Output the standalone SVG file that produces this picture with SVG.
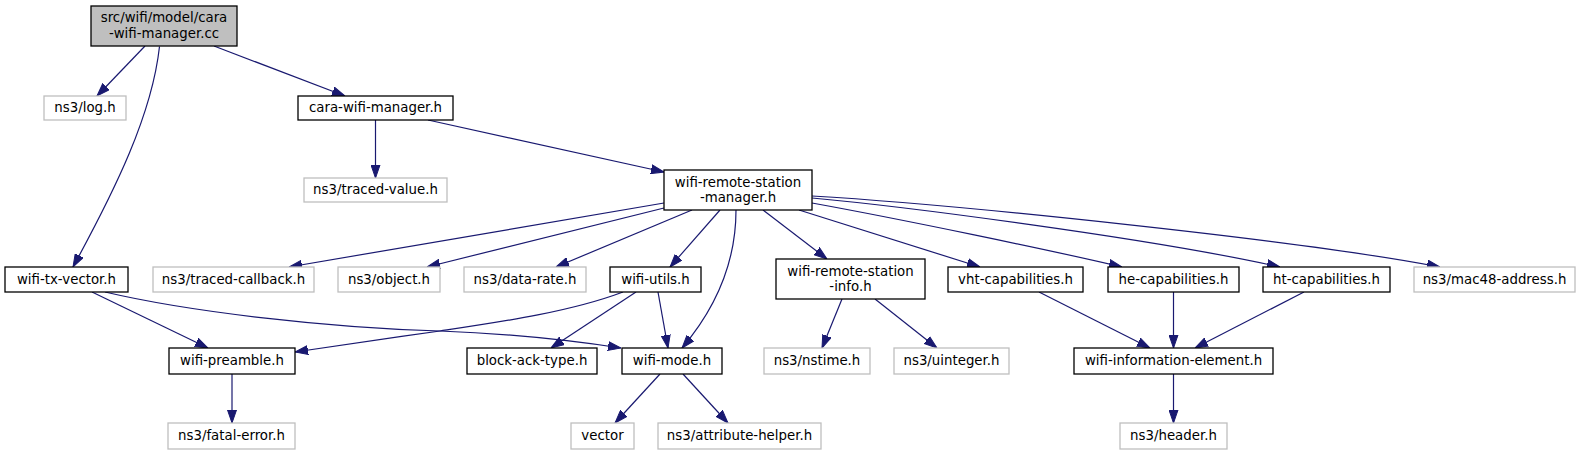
<svg xmlns="http://www.w3.org/2000/svg" width="1581" height="455" viewBox="0 0 1581 455">
<style>
.n rect{fill:#ffffff;stroke:#000000;stroke-width:1.3}
.x rect{fill:#ffffff;stroke:#bfbfbf;stroke-width:1.3}
.r rect{fill:#bfbfbf;stroke:#000000;stroke-width:1.3}
text{font-family:"DejaVu Sans","Liberation Sans",sans-serif;font-size:13.33px;fill:#000000;text-anchor:middle}
#edges path{fill:none;stroke:#191970;stroke-width:1.2;marker-end:url(#ah)}
</style>
<defs>
<marker id="ah" markerUnits="userSpaceOnUse" markerWidth="13" markerHeight="10" viewBox="0 0 13 10" refX="13" refY="5" orient="auto">
<polygon points="0,0.5 13,5 0,9.5" fill="#191970" stroke="#191970" stroke-width="1"/>
</marker>
</defs>
<rect x="0" y="0" width="1581" height="455" fill="#ffffff"/>
<g id="edges">
<path d="M145,46 L97,96"/>
<path d="M159.5,46.5 C152,115 115,190 73,267"/>
<path d="M214,46 L345,96"/>
<path d="M375.5,120 L375.5,178"/>
<path d="M428,120 L664,172"/>
<path d="M92,292 L208,348"/>
<path d="M105,292 C190,312 330,328 440,331 C520,334 575,341 621,348"/>
<path d="M664,203 L289,267"/>
<path d="M664,208 L427,267"/>
<path d="M692,210 L556,267"/>
<path d="M720,210 L670,267"/>
<path d="M736,210 C736,270 710,315 682,348"/>
<path d="M763,210 L827,259"/>
<path d="M799,210 L980,267"/>
<path d="M812,203 C900,219 1050,250 1122,267"/>
<path d="M812,198 C900,206 1150,238 1280,267"/>
<path d="M812,196 C950,204 1300,240 1440,267"/>
<path d="M623,292 C570,312 500,322 440,331 C390,338 335,346 295,352"/>
<path d="M636,292 L551,348"/>
<path d="M658,292 L668,348"/>
<path d="M842,299 L822,348"/>
<path d="M875,299 L937,348"/>
<path d="M1039,292 L1150,348"/>
<path d="M1173.5,292 L1173.5,348"/>
<path d="M1304,292 L1195,348"/>
<path d="M232,374 L232,423"/>
<path d="M660,374 L615,423"/>
<path d="M683,374 L728,423"/>
<path d="M1173.5,374 L1173.5,423"/>
</g>
<g id="node-root" class="r"><rect x="91" y="6" width="146" height="40"/><text x="164" y="22">src/wifi/model/cara</text><text x="164" y="38">-wifi-manager.cc</text></g>
<g id="node-log" class="x"><rect x="44" y="96" width="82" height="24"/><text x="85" y="112">ns3/log.h</text></g>
<g id="node-cara-wifi-manager" class="n"><rect x="298" y="96" width="155" height="24"/><text x="375.5" y="112">cara-wifi-manager.h</text></g>
<g id="node-traced-value" class="x"><rect x="304" y="178" width="143" height="24"/><text x="375.5" y="194">ns3/traced-value.h</text></g>
<g id="node-wifi-remote-station-manager" class="n"><rect x="664" y="170" width="148" height="40"/><text x="738" y="186.5">wifi-remote-station</text><text x="738" y="201.5">-manager.h</text></g>
<g id="node-wifi-tx-vector" class="n"><rect x="5" y="267" width="123" height="25"/><text x="66.5" y="283.5">wifi-tx-vector.h</text></g>
<g id="node-traced-callback" class="x"><rect x="153" y="267" width="161" height="25"/><text x="233.5" y="283.5">ns3/traced-callback.h</text></g>
<g id="node-object" class="x"><rect x="338" y="267" width="102" height="25"/><text x="389" y="283.5">ns3/object.h</text></g>
<g id="node-data-rate" class="x"><rect x="464" y="267" width="122" height="25"/><text x="525" y="283.5">ns3/data-rate.h</text></g>
<g id="node-wifi-utils" class="n"><rect x="610" y="267" width="91" height="25"/><text x="655.5" y="283.5">wifi-utils.h</text></g>
<g id="node-wifi-remote-station-info" class="n"><rect x="776" y="259" width="149" height="40"/><text x="850.5" y="275.5">wifi-remote-station</text><text x="850.5" y="290.5">-info.h</text></g>
<g id="node-vht-capabilities" class="n"><rect x="948" y="267" width="135" height="25"/><text x="1015.5" y="283.5">vht-capabilities.h</text></g>
<g id="node-he-capabilities" class="n"><rect x="1108" y="267" width="131" height="25"/><text x="1173.5" y="283.5">he-capabilities.h</text></g>
<g id="node-ht-capabilities" class="n"><rect x="1263" y="267" width="127" height="25"/><text x="1326.5" y="283.5">ht-capabilities.h</text></g>
<g id="node-mac48-address" class="x"><rect x="1414" y="267" width="161" height="25"/><text x="1494.5" y="283.5">ns3/mac48-address.h</text></g>
<g id="node-wifi-preamble" class="n"><rect x="169" y="348" width="126" height="26"/><text x="232" y="365">wifi-preamble.h</text></g>
<g id="node-block-ack-type" class="n"><rect x="467" y="348" width="130" height="26"/><text x="532" y="365">block-ack-type.h</text></g>
<g id="node-wifi-mode" class="n"><rect x="622" y="348" width="100" height="26"/><text x="672" y="365">wifi-mode.h</text></g>
<g id="node-nstime" class="x"><rect x="764" y="348" width="106" height="26"/><text x="817" y="365">ns3/nstime.h</text></g>
<g id="node-uinteger" class="x"><rect x="894" y="348" width="115" height="26"/><text x="951.5" y="365">ns3/uinteger.h</text></g>
<g id="node-wifi-information-element" class="n"><rect x="1074" y="348" width="199" height="26"/><text x="1173.5" y="365">wifi-information-element.h</text></g>
<g id="node-fatal-error" class="x"><rect x="168" y="423" width="127" height="26"/><text x="231.5" y="440">ns3/fatal-error.h</text></g>
<g id="node-vector" class="x"><rect x="571" y="423" width="63" height="26"/><text x="602.5" y="440">vector</text></g>
<g id="node-attribute-helper" class="x"><rect x="658" y="423" width="163" height="26"/><text x="739.5" y="440">ns3/attribute-helper.h</text></g>
<g id="node-header" class="x"><rect x="1120" y="423" width="107" height="26"/><text x="1173.5" y="440">ns3/header.h</text></g>
</svg>
